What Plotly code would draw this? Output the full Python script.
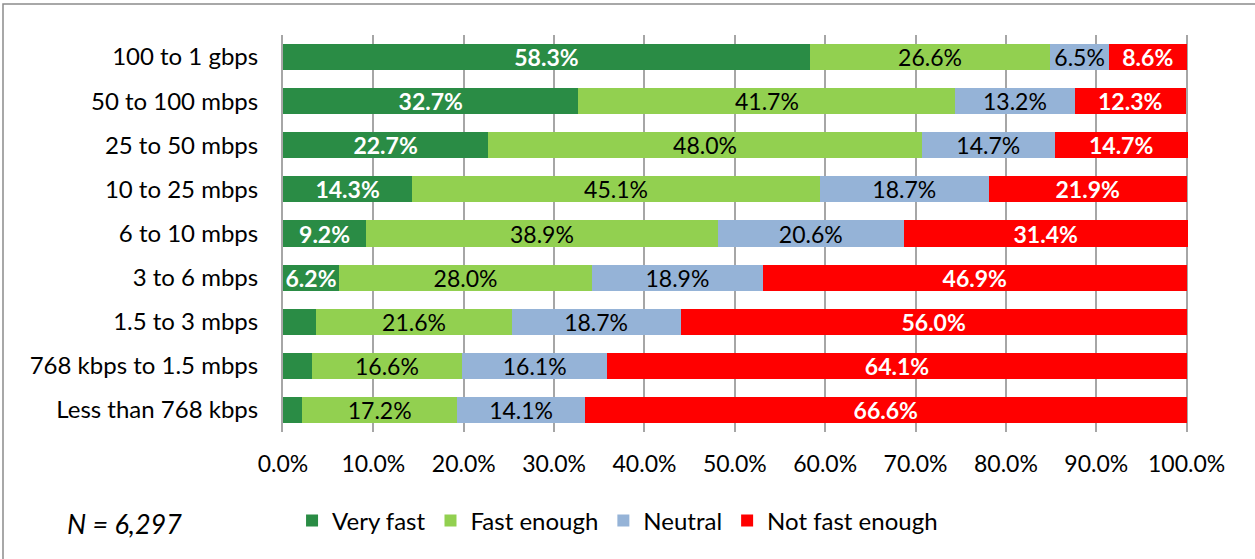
import plotly.graph_objects as go

categories = ["100 to 1 gbps", "50 to 100 mbps", "25 to 50 mbps", "10 to 25 mbps",
              "6 to 10 mbps", "3 to 6 mbps", "1.5 to 3 mbps", "768 kbps to 1.5 mbps",
              "Less than 768 kbps"]
very_fast = [58.3, 32.7, 22.7, 14.3, 9.2, 6.2, 3.7, 3.2, 2.1]
fast_enough = [26.6, 41.7, 48.0, 45.1, 38.9, 28.0, 21.6, 16.6, 17.2]
neutral = [6.5, 13.2, 14.7, 18.7, 20.6, 18.9, 18.7, 16.1, 14.1]
not_fast = [8.6, 12.3, 14.7, 21.9, 31.4, 46.9, 56.0, 64.1, 66.6]
tick_vals = [0, 10, 20, 30, 40, 50, 60, 70, 80, 90, 100]
tick_text = ["0.0%", "10.0%", "20.0%", "30.0%", "40.0%", "50.0%", "60.0%", "70.0%", "80.0%", "90.0%", "100.0%"]

FONT = "Lato"
series = [
    ("Very fast", very_fast, "#2a8c45", "white", True),
    ("Fast enough", fast_enough, "#92d050", "black", False),
    ("Neutral", neutral, "#95b3d7", "black", False),
    ("Not fast enough", not_fast, "#ff0000", "white", True),
]

fig = go.Figure()
for name, vals, color, tcolor, bold in series:
    texts = []
    for v in vals:
        if name == "Very fast" and v < 5:
            texts.append("")
        else:
            s = f"{v:.1f}%"
            texts.append(f"<b>{s}</b>" if bold else s)
    fig.add_trace(go.Bar(
        name=name, y=categories, x=vals, orientation="h",
        marker=dict(color=color, line=dict(width=0)),
        text=texts, textposition="inside", insidetextanchor="middle",
        textfont=dict(color=tcolor, size=23, family=FONT),
        textangle=0, constraintext="none", cliponaxis=False,
    ))

fig.update_layout(
    barmode="stack",
    bargap=0.41,
    width=1255, height=559,
    margin=dict(l=283, r=67, t=35, b=127),
    paper_bgcolor="white", plot_bgcolor="white",
    font=dict(family=FONT, size=23, color="black"),
    showlegend=True,
    legend=dict(orientation="h", x=0.01, y=-0.224, xanchor="left", yanchor="middle",
                font=dict(size=24, family=FONT), traceorder="normal",
                itemsizing="constant"),
    xaxis=dict(range=[0, 100.15], tickvals=tick_vals, ticktext=tick_text,
               showgrid=True, gridcolor="#a6a6a6", gridwidth=1.5, zeroline=False,
               showline=False, ticks="", tickfont=dict(size=23, family=FONT),
               ticklabelstandoff=16),
    yaxis=dict(categoryorder="array", categoryarray=categories, autorange="reversed",
               showline=True, linecolor="#a6a6a6", linewidth=2, ticks="",
               tickfont=dict(size=24, family=FONT), ticklabelstandoff=18),
    annotations=[dict(text="<i>N = 6,297</i>", xref="paper", yref="paper",
                      x=(65 - 283) / 905, y=(432 - 523) / 397, xanchor="left", yanchor="middle",
                      showarrow=False, font=dict(size=27, family=FONT))],
    shapes=[dict(type="rect", xref="paper", yref="paper",
                 x0=(3 - 283) / 905, x1=(1262 - 283) / 905,
                 y0=(432 - 570) / 397, y1=1 + (35 - 4) / 397,
                 line=dict(color="#8c8c8c", width=1.5), fillcolor="rgba(0,0,0,0)", layer="below")],
)

fig.write_html("out.html", config={"displayModeBar": False},
               post_script="document.body.style.margin='0';")
